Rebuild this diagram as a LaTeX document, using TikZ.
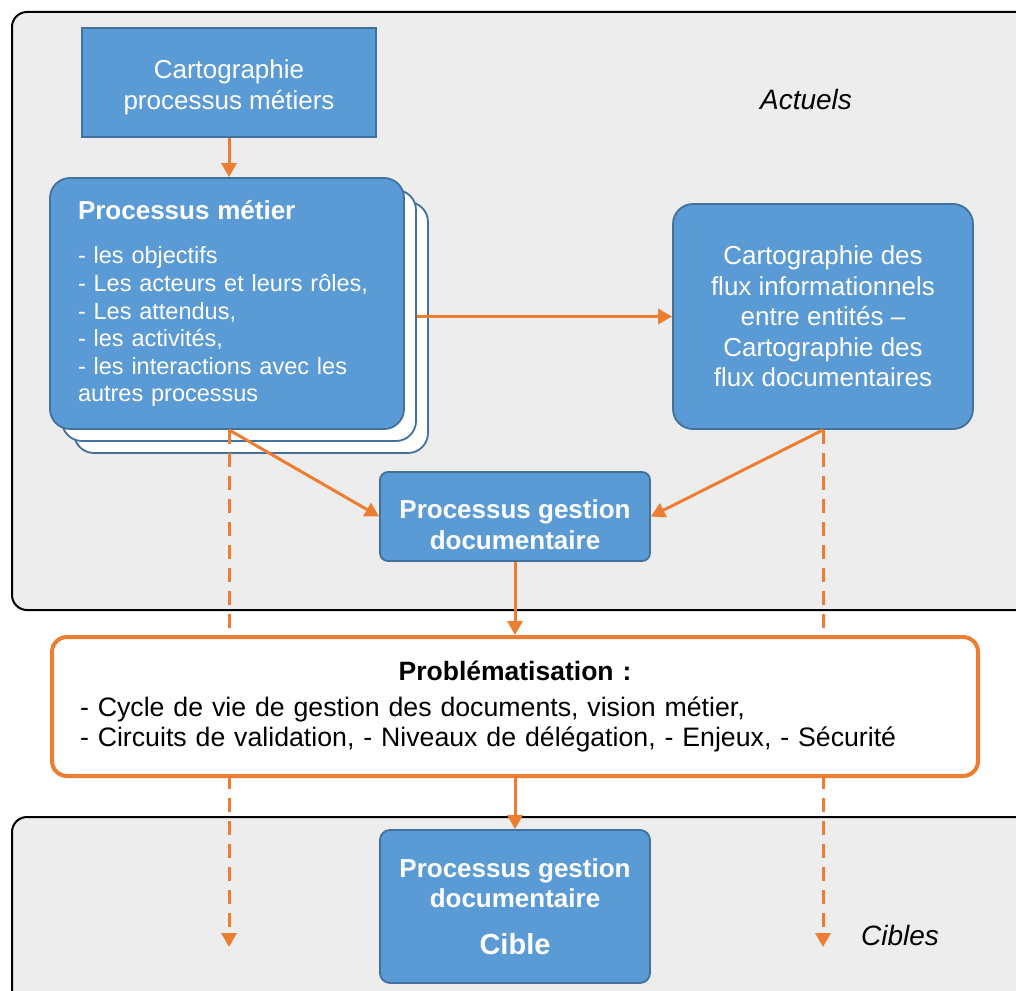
\documentclass[tikz,border=0pt]{standalone}
\usepackage{fontspec}
\setmainfont{Liberation Sans}
\usetikzlibrary{arrows.meta, positioning}

\definecolor{bleu}{HTML}{5B9BD5}
\definecolor{bleufonce}{HTML}{41719C}
\definecolor{orangeo}{HTML}{ED7D31}
\definecolor{fond}{HTML}{EDEDED}

\begin{document}
\begin{tikzpicture}[x=1pt, y=-1pt, >={Triangle[length=14pt, width=15pt]},
    panel/.style={draw=black, line width=2pt, fill=fond, rounded corners=15pt},
    bloc/.style={draw=bleufonce, line width=1.8pt, fill=bleu, text=white, align=center, font=\fontsize{26}{30.5}\selectfont},
    feuille/.style={bloc, fill=white, rounded corners=20pt, minimum width=354pt, minimum height=251pt},
    fleche/.style={->, draw=orangeo, line width=3pt},
    pointille/.style={fleche, dash pattern=on 14pt off 9pt},
    etiquette/.style={font=\fontsize{28}{30}\selectfont\itshape}]
    \useasboundingbox (0,0) rectangle (1016,990);
    \clip (0,0) rectangle (1016,990);

    \draw[panel] (12,12) rectangle (1040,610);
    \draw[panel] (12,817) rectangle (1040,1020);

    \node[bloc, minimum width=294pt, minimum height=109pt] (carto) at (229,82.5) {\rule{0pt}{28pt}Cartographie\\processus métiers};

    \node[feuille] (metierb) at (251,327.5) {};
    \node[feuille] (metiera) at (239,315.5) {};
    \node[feuille, fill=bleu, text width=298pt, align=left, font=\fontsize{23.5}{27.6}\selectfont] (metier) at (227,303.5)
        {{\fontsize{26}{30}\selectfont\bfseries Processus métier}\\[17pt]
         - les objectifs\\
         - Les acteurs et leurs rôles,\\
         - Les attendus,\\
         - les activités,\\
         - les interactions avec les\\
         autres processus};

    \node[bloc, rounded corners=20pt, minimum width=300pt, minimum height=225pt] (flux) at (823,316.5)
        {Cartographie des\\flux informationnels\\entre entités –\\Cartographie des\\flux documentaires};

    \node[bloc, rounded corners=8pt, minimum width=270pt, minimum height=89pt, font=\fontsize{26}{31}\selectfont\bfseries] (gestion) at (515,516.5)
        {\rule{0pt}{35pt}Processus gestion\\documentaire};

    \node[bloc, rounded corners=10pt, minimum width=270pt, minimum height=153pt, font=\fontsize{26}{30}\selectfont\bfseries] (cible) at (515,906.5)
        {Processus gestion\\documentaire\\[17pt]{\fontsize{29}{30}\selectfont Cible}};

    \node[etiquette] (actuels) at (806,99) {Actuels};
    \node[etiquette] (cibles) at (900,935) {Cibles};

    \coordinate (finm) at (229,947);
    \coordinate (finf) at (823,947);
    \draw[pointille] (metier.south -| finm) -- (finm);
    \draw[pointille] (flux.south) -- (finf);

    \node[draw=orangeo, line width=4pt, fill=white, rounded corners=15pt, minimum width=926pt, minimum height=139pt,
          text width=870pt, font=\fontsize{26.7}{30}\selectfont] (probl) at (515,706.5)
        {{\centering\fontsize{26.5}{30}\selectfont\bfseries Problématisation :\par}\vspace{6pt}
         \noindent - Cycle de vie de gestion des documents, vision métier,\\
         - Circuits de validation, - Niveaux de délégation, - Enjeux, - Sécurité};

    \draw[fleche] (carto.south) -- (carto.south |- metier.north);
    \draw[fleche] (metiera.east |- flux.west) -- (flux.west);
    \draw[fleche] (metier.south -| finm) -- (gestion.west);
    \draw[fleche] (flux.south) -- (gestion.east);
    \draw[fleche] (gestion.south) -- (probl.north);
    \draw[fleche] (probl.south) -- (cible.north);
\end{tikzpicture}
\end{document}
